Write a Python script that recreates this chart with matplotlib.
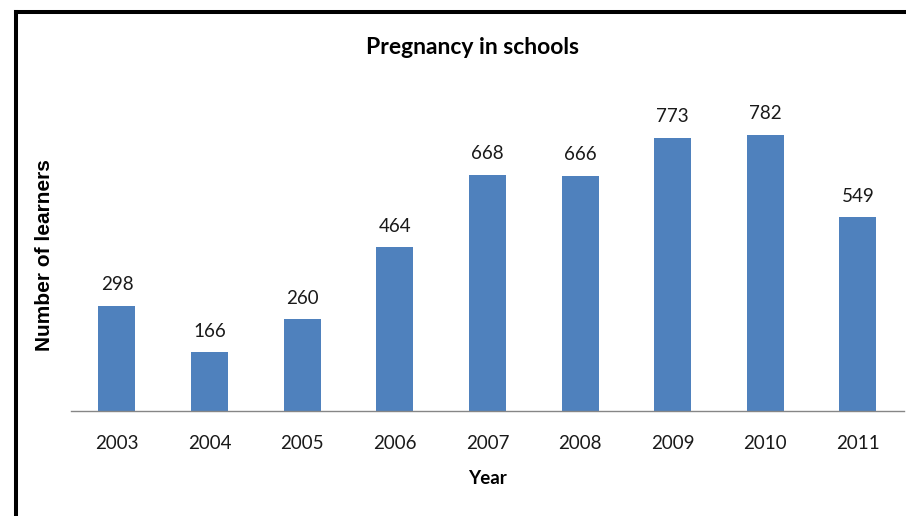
import matplotlib
matplotlib.use("Agg")
import matplotlib.pyplot as plt
from matplotlib.lines import Line2D

years = ["2003", "2004", "2005", "2006", "2007", "2008", "2009", "2010", "2011"]
learners = [298, 166, 260, 464, 668, 666, 773, 782, 549]

plt.rcParams['font.family'] = ['Lato', 'DejaVu Sans']

fig = plt.figure(figsize=(9.06, 5.16), dpi=100)
ax = fig.add_axes([0.078, 0.2035, 0.920, 0.6163])

x = list(range(len(years)))
bars = ax.bar(x, learners, width=0.4, color="#4F81BD", zorder=2)
for xi, v in zip(x, learners):
    ax.annotate(str(v), (xi, v), xytext=(0, 9), textcoords="offset points",
                ha="center", va="bottom", fontsize=13.5, color="#1a1a1a")

ax.set_xlim(-0.5, len(years) - 0.5)
ax.set_ylim(0, 900)
ax.set_xticks(x)
ax.set_xticklabels(years, fontsize=13.5, color="#1a1a1a")
ax.set_yticks([])
for s in ["top", "right", "left"]:
    ax.spines[s].set_visible(False)
ax.spines["bottom"].set_color("#868686")
ax.spines["bottom"].set_linewidth(1.0)
ax.tick_params(axis="x", length=0, pad=17)

ax.set_xlabel("Year", fontsize=13.5, fontweight="bold", labelpad=13)
fig.text(0.049, 0.506, "Number of learners", rotation=90, ha="center", va="center",
         fontsize=15, fontweight="bold", family=["Liberation Sans", "DejaVu Sans"])
fig.text(0.521, 0.907, "Pregnancy in schools", ha="center", va="center",
         fontsize=16.5, fontweight="bold")

# black frame (left and top)
fig.add_artist(Line2D([16/906, 16/906], [0, 1 - 12/516], transform=fig.transFigure,
                      color="black", linewidth=2.9, solid_capstyle="projecting"))
fig.add_artist(Line2D([16/906, 1], [1 - 12/516, 1 - 12/516], transform=fig.transFigure,
                      color="black", linewidth=2.9, solid_capstyle="projecting"))

fig.savefig("out.png", dpi=100)
